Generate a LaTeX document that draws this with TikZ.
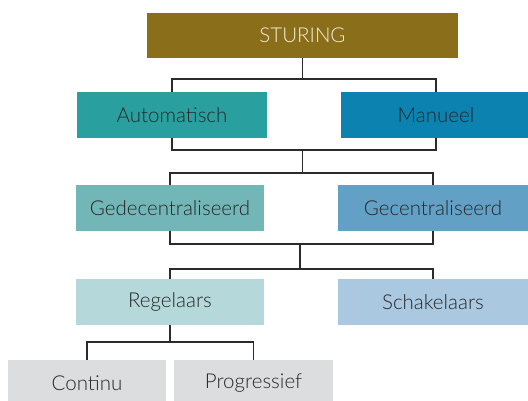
\documentclass[tikz,border=0pt]{standalone}
\usepackage{fontspec}
\setmainfont{Lato Light}
\usetikzlibrary{backgrounds}
\definecolor{cSt}{HTML}{8B6E1A}
\definecolor{cStT}{HTML}{F3EEDC}
\definecolor{cAut}{HTML}{2A9FA0}
\definecolor{cMan}{HTML}{0B82B0}
\definecolor{cGed}{HTML}{73B6B8}
\definecolor{cGec}{HTML}{62A0C6}
\definecolor{cReg}{HTML}{B5D8DA}
\definecolor{cSch}{HTML}{AAC8E0}
\definecolor{cLow}{HTML}{DCDDDF}
\definecolor{cTxt}{HTML}{262626}
\definecolor{cLine}{HTML}{2B2B2B}
\tikzset{
  box/.style={inner sep=0pt, outer sep=0pt, minimum height=46pt, text=cTxt,
    font=\fontsize{20.5}{24}\selectfont},
  conn/.style={draw=cLine, line width=1.6pt, line cap=rect}
}
\begin{document}
\begin{tikzpicture}[x=1pt,y=-1pt]
\useasboundingbox (0,0) rectangle (528,401);
\node[box, fill=cSt, text=cStT, minimum width=311pt, minimum height=45pt] (st) at (302.5,35.5) {STURING};
\node[box, fill=cAut, minimum width=190pt] (aut) at (172,115) {Automatisch};
\node[box, fill=cMan, minimum width=190pt] (man) at (436,115) {Manueel};
\node[box, fill=cGed, minimum width=188pt] (ged) at (170,208) {Gedecentraliseerd};
\node[box, fill=cGec, minimum width=190pt] (gec) at (433,208) {Gecentraliseerd};
\node[box, fill=cReg, minimum width=188pt] (reg) at (170,302) {Regelaars};
\node[box, fill=cSch, minimum width=190pt] (sch) at (433,302) {Schakelaars};
\node[box, fill=cLow, minimum width=158pt] (con) at (87,383) {Continu};
\node[box, fill=cLow, minimum width=159pt] (pro) at (253.5,383) {Progressief};
\coordinate (b1) at (302.5,79);
\coordinate (b2) at (302.5,150);
\coordinate (b3) at (302.5,173);
\coordinate (b4) at (300,244);
\coordinate (b5) at (300,269);
\coordinate (b6) at (170,342);
\begin{scope}[on background layer]
\draw[conn] (st.south) -- (b1);
\draw[conn] (aut.center |- b2) -- (aut.center |- b1) -- (man.center |- b1) -- (man.center |- b2) -- cycle;
\draw[conn] (b2) -- (b3);
\draw[conn] (ged.north) -- (ged.center |- b3) -- (gec.center |- b3) -- (gec.north);
\draw[conn] (ged.south) -- (ged.center |- b4) -- (gec.center |- b4) -- (gec.south);
\draw[conn] (b4) -- (b5);
\draw[conn] (reg.north) -- (reg.center |- b5) -- (sch.center |- b5) -- (sch.north);
\draw[conn] (reg.south) -- (b6);
\draw[conn] (con.north) -- (con.center |- b6) -- (pro.center |- b6) -- (pro.north);
\end{scope}
\end{tikzpicture}
\end{document}
